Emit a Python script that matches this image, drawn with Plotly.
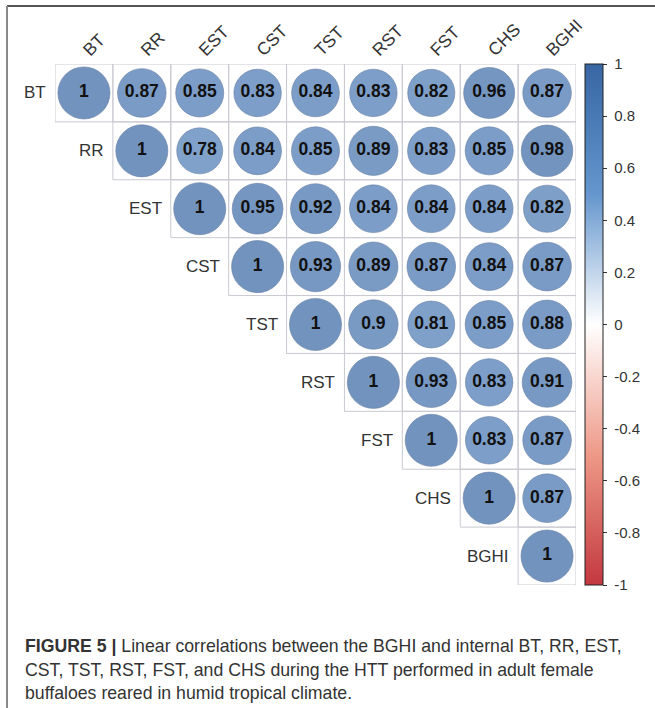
import plotly.graph_objects as go
import numpy as np

# Variables and their upper-triangle Pearson correlations (row-wise, starting at the diagonal)
labels = ["BT", "RR", "EST", "CST", "TST", "RST", "FST", "CHS", "BGHI"]
r_BT = [1, 0.87, 0.85, 0.83, 0.84, 0.83, 0.82, 0.96, 0.87]
r_RR = [1, 0.78, 0.84, 0.85, 0.89, 0.83, 0.85, 0.98]
r_EST = [1, 0.95, 0.92, 0.84, 0.84, 0.84, 0.82]
r_CST = [1, 0.93, 0.89, 0.87, 0.84, 0.87]
r_TST = [1, 0.9, 0.81, 0.85, 0.88]
r_RST = [1, 0.93, 0.83, 0.91]
r_FST = [1, 0.83, 0.87]
r_CHS = [1, 0.87]
r_BGHI = [1]
rows = [r_BT, r_RR, r_EST, r_CST, r_TST, r_RST, r_FST, r_CHS, r_BGHI]

cbar_ticks = [1, 0.8, 0.6, 0.4, 0.2, 0, -0.2, -0.4, -0.6, -0.8, -1]

caption_lines = [
    "<b>FIGURE 5 |</b> Linear correlations between the BGHI and internal BT, RR, EST,",
    "CST, TST, RST, FST, and CHS during the HTT performed in adult female",
    "buffaloes reared in humid tropical climate.",
]

# Diverging palette from red (-1) through white (0) to blue (+1)
palette = [[0.0, "#C3383F"], [0.25, "#EE9988"], [0.5, "#FFFFFF"],
           [0.75, "#6596CD"], [1.0, "#3766A3"]]

n = len(labels)
FONT = "Liberation Sans, Arial, sans-serif"

# Plot-area geometry in pixels
W, H = 655, 708
L, T, PW, PH = 55, 64, 521, 521
cell = PW / n


def px_x(px):
    return (px - L) / PW


def px_y(py):
    return (T + PH - py) / PH


xs, ys, vals, txt, sizes = [], [], [], [], []
for i, row in enumerate(rows):
    for k, v in enumerate(row):
        j = i + k
        xs.append(j)
        ys.append(i)
        vals.append(v)
        txt.append(f"{v:g}")
        sizes.append(0.9 * cell * np.sqrt(abs(v)))

fig = go.Figure()

fig.add_trace(go.Scatter(
    x=xs, y=ys, mode="markers+text",
    text=txt, textposition="middle center",
    textfont=dict(family=FONT, size=17.5, color="#111111", weight="bold"),
    marker=dict(
        size=sizes, color=vals, colorscale=palette, cmin=-1, cmax=1,
        line=dict(color="rgba(40,75,130,0.6)", width=1),
        showscale=True,
        colorbar=dict(
            x=px_x(585), xanchor="left", xpad=0,
            y=1, yanchor="top", ypad=0,
            len=PH, lenmode="pixels",
            thickness=18, thicknessmode="pixels",
            outlinewidth=1, outlinecolor="#222222",
            tickvals=cbar_ticks,
            ticktext=["\u00a0" + f"{t:g}" for t in cbar_ticks],
            ticks="outside", ticklen=4, tickcolor="#333333",
            tickfont=dict(family=FONT, size=15, color="#333333"),
        ),
    ),
    hoverinfo="skip",
    showlegend=False,
))

# Cell borders of the upper triangle
shapes = []
for i in range(n):
    for j in range(i, n):
        shapes.append(dict(
            type="rect", xref="x", yref="y",
            x0=j - 0.5, x1=j + 0.5, y0=i - 0.5, y1=i + 0.5,
            line=dict(color="#c9c9d2", width=1), layer="below",
        ))

# Figure frame (top and left edges)
shapes.append(dict(type="line", xref="paper", yref="paper",
                   x0=px_x(7), x1=px_x(656), y0=px_y(6), y1=px_y(6),
                   line=dict(color="#555555", width=2)))
shapes.append(dict(type="line", xref="paper", yref="paper",
                   x0=px_x(7), x1=px_x(7), y0=px_y(6), y1=px_y(709),
                   line=dict(color="#8a8a8a", width=2)))

annotations = []
# Row labels sit to the left of each diagonal cell
for i, lab in enumerate(labels):
    annotations.append(dict(
        x=i - 0.5, y=i, xref="x", yref="y",
        text=lab, showarrow=False, xanchor="right", yanchor="middle",
        xshift=-7,
        font=dict(family=FONT, size=17, color="#333333"),
    ))

# Caption
for k, line in enumerate(caption_lines):
    annotations.append(dict(
        x=px_x(23), y=px_y(646 + 23.5 * k), xref="paper", yref="paper",
        text=line, showarrow=False, xanchor="left", yanchor="middle",
        font=dict(family=FONT, size=17.7, color="#333333"),
    ))

fig.update_layout(
    width=W, height=H,
    margin=dict(l=L, r=W - L - PW, t=T, b=H - T - PH, pad=0),
    paper_bgcolor="white", plot_bgcolor="white",
    shapes=shapes, annotations=annotations,
    xaxis=dict(
        range=[-0.5, n - 0.5], side="top",
        tickvals=list(range(n)), ticktext=labels, tickangle=-45,
        tickfont=dict(family=FONT, size=17.5, color="#333333"),
        showgrid=False, zeroline=False, showline=False, ticks="",
    ),
    yaxis=dict(
        range=[n - 0.5, -0.5], showticklabels=False,
        showgrid=False, zeroline=False, showline=False, ticks="",
    ),
)

fig.write_html("out.html")
